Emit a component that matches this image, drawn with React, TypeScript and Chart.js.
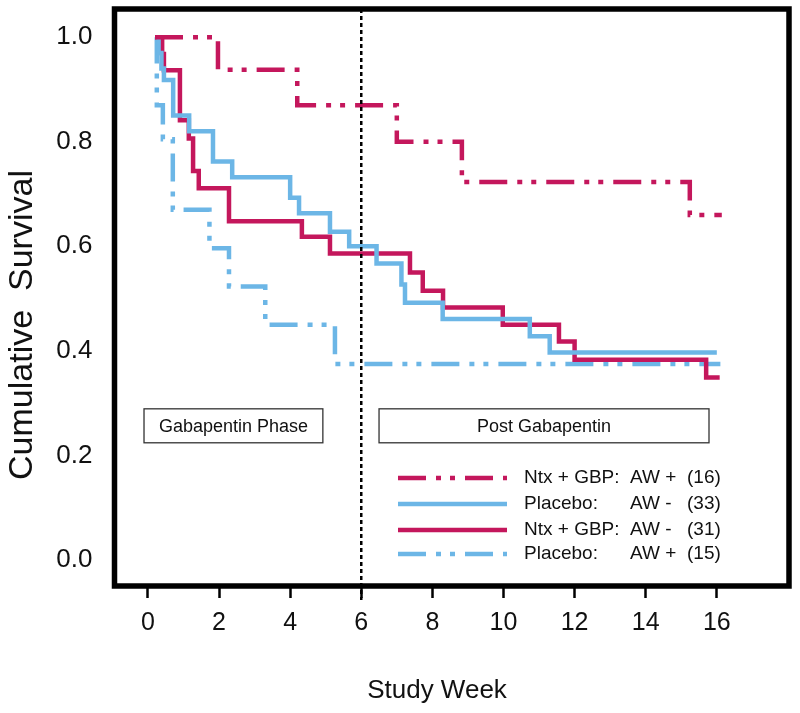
import React, { useEffect, useRef } from "react";
import { Chart, registerables } from "chart.js";

Chart.register(...registerables);

// ---- Data ----
const X_TICKS = [0, 2, 4, 6, 8, 10, 12, 14, 16];
const Y_TICKS = [0, 0.2, 0.4, 0.6, 0.8, 1.0];
const PHASE_WEEK = 6;

// Ntx + GBP: AW+ (16)
const ntxAwPosWeeks = [0.2, 1.97, 4.2, 7.0, 8.83, 15.24, 16.14];
const ntxAwPosSurv = [1.0, 0.938, 0.87, 0.8, 0.723, 0.66, 0.66];

// Placebo: AW- (33)
const plaAwNegWeeks = [0.25, 0.3, 0.38, 0.45, 0.71, 1.16, 1.83, 2.37, 4.0, 4.25, 5.12, 5.66, 6.43, 7.13, 7.23, 8.29, 10.74, 11.3, 16.0];
const plaAwNegSurv = [1.0, 0.97, 0.94, 0.918, 0.85, 0.82, 0.762, 0.732, 0.693, 0.663, 0.628, 0.6, 0.567, 0.527, 0.492, 0.461, 0.428, 0.397, 0.397];

// Ntx + GBP: AW- (31)
const ntxAwNegWeeks = [0.2, 0.4, 0.45, 0.9, 1.15, 1.27, 1.43, 2.28, 4.33, 5.12, 7.37, 7.73, 8.3, 9.98, 11.56, 12.0, 15.7, 16.08];
const ntxAwNegSurv = [1.0, 0.968, 0.937, 0.841, 0.806, 0.744, 0.711, 0.648, 0.618, 0.586, 0.55, 0.515, 0.483, 0.45, 0.418, 0.383, 0.349, 0.349];

// Placebo: AW+ (15)
const plaAwPosWeeks = [0.2, 0.25, 0.42, 0.7, 1.73, 2.28, 3.3, 5.26, 16.1];
const plaAwPosSurv = [1.0, 0.87, 0.805, 0.67, 0.596, 0.523, 0.45, 0.375, 0.375];

const seriesGroup = ["Ntx + GBP:", "Placebo:", "Ntx + GBP:", "Placebo:"];
const seriesAW = ["AW +", "AW -", "AW -", "AW +"];
const seriesN = [16, 33, 31, 15];

const PHASE_LABELS = ["Gabapentin Phase", "Post Gabapentin"];

const MAGENTA = "#C4175C";
const BLUE = "#6CB6E6";
const DASH_DOT_DOT = [28, 10, 5, 9, 5, 10];
const FONT = "'Liberation Sans', Arial, Helvetica, sans-serif";

const toPoints = (xs: number[], ys: number[]) => xs.map((x, i) => ({ x, y: ys[i] }));

const overlayPlugin = {
  id: "overlay",
  afterDatasetsDraw(chart: any) {
    const { ctx, chartArea: a, scales } = chart;
    const x = scales.x;
    const y = scales.y;
    ctx.save();

    // phase boundary (dotted vertical)
    const px = x.getPixelForValue(PHASE_WEEK);
    ctx.strokeStyle = "#000";
    ctx.lineWidth = 2.5;
    ctx.setLineDash([4, 3]);
    ctx.beginPath();
    ctx.moveTo(px, a.top);
    ctx.lineTo(px, a.bottom + 14);
    ctx.stroke();
    ctx.setLineDash([]);

    // phase boxes
    const boxes = [
      { label: PHASE_LABELS[0], from: -0.11, to: 4.92 },
      { label: PHASE_LABELS[1], from: 6.5, to: 15.78 },
    ];
    const yTop = y.getPixelForValue(0.289);
    const yBot = y.getPixelForValue(0.224);
    ctx.font = `18px ${FONT}`;
    ctx.textAlign = "center";
    ctx.textBaseline = "middle";
    boxes.forEach((b) => {
      const l = x.getPixelForValue(b.from);
      const r = x.getPixelForValue(b.to);
      ctx.fillStyle = "#fff";
      ctx.fillRect(l, yTop, r - l, yBot - yTop);
      ctx.strokeStyle = "#333";
      ctx.lineWidth = 1.3;
      ctx.strokeRect(l, yTop, r - l, yBot - yTop);
      ctx.fillStyle = "#111";
      ctx.fillText(b.label, (l + r) / 2, (yTop + yBot) / 2 + 1);
    });

    // legend
    const rowsY = [478, 504, 530, 554];
    chart.data.datasets.forEach((ds: any, i: number) => {
      const ly = rowsY[i];
      ctx.strokeStyle = ds.borderColor;
      ctx.lineWidth = 4.5;
      ctx.lineCap = "butt";
      ctx.setLineDash(ds.borderDash || []);
      ctx.beginPath();
      ctx.moveTo(398, ly);
      ctx.lineTo(507, ly);
      ctx.stroke();
      ctx.setLineDash([]);
      ctx.fillStyle = "#111";
      ctx.font = `19px ${FONT}`;
      ctx.textAlign = "left";
      ctx.textBaseline = "middle";
      ctx.fillText(seriesGroup[i], 524, ly);
      ctx.fillText(seriesAW[i], 630, ly);
      ctx.fillText(`(${seriesN[i]})`, 687, ly);
    });

    // frame
    ctx.strokeStyle = "#000";
    ctx.lineWidth = 5.5;
    ctx.strokeRect(a.left, a.top, a.right - a.left, a.bottom - a.top);

    // axis titles
    ctx.fillStyle = "#111";
    ctx.font = `26px ${FONT}`;
    ctx.textAlign = "center";
    ctx.textBaseline = "alphabetic";
    ctx.fillText("Study Week", 437, 698);

    ctx.save();
    ctx.translate(32, 325);
    ctx.rotate(-Math.PI / 2);
    ctx.font = `34px ${FONT}`;
    ctx.fillText("Cumulative  Survival", 0, 0);
    ctx.restore();

    ctx.restore();
  },
};

export default function App() {
  const ref = useRef<HTMLCanvasElement | null>(null);

  useEffect(() => {
    if (!ref.current) return;
    const common = { pointRadius: 0, stepped: true, fill: false, borderWidth: 4.5, borderCapStyle: "butt" };
    const chart = new Chart(ref.current, {
      type: "line",
      data: {
        datasets: [
          { ...common, label: `${seriesGroup[0]} ${seriesAW[0]} (${seriesN[0]})`, data: toPoints(ntxAwPosWeeks, ntxAwPosSurv), borderColor: MAGENTA, borderDash: DASH_DOT_DOT },
          { ...common, label: `${seriesGroup[1]} ${seriesAW[1]} (${seriesN[1]})`, data: toPoints(plaAwNegWeeks, plaAwNegSurv), borderColor: BLUE, borderDash: [] },
          { ...common, label: `${seriesGroup[2]} ${seriesAW[2]} (${seriesN[2]})`, data: toPoints(ntxAwNegWeeks, ntxAwNegSurv), borderColor: MAGENTA, borderDash: [] },
          { ...common, label: `${seriesGroup[3]} ${seriesAW[3]} (${seriesN[3]})`, data: toPoints(plaAwPosWeeks, plaAwPosSurv), borderColor: BLUE, borderDash: DASH_DOT_DOT },
        ] as any,
      },
      options: {
        responsive: false,
        animation: false,
        layout: { padding: { left: 0, right: 11, top: 9, bottom: 0 } },
        plugins: { legend: { display: false }, tooltip: { enabled: false }, title: { display: false } },
        scales: {
          x: {
            type: "linear",
            min: -0.94,
            max: 18.03,
            afterBuildTicks: (s: any) => { s.ticks = X_TICKS.map((v) => ({ value: v })); },
            afterFit: (s: any) => { s.height = 127; s.paddingLeft = 0; s.paddingRight = 0; },
            grid: { display: true, drawOnChartArea: false, drawTicks: true, tickLength: 12, tickWidth: 2.5, tickColor: "#000" },
            border: { display: false },
            ticks: { color: "#111", font: { family: FONT, size: 25 }, padding: 10, maxRotation: 0, autoSkip: false, callback: (v: any) => String(v) },
          },
          y: {
            type: "linear",
            min: -0.05,
            max: 1.054,
            afterBuildTicks: (s: any) => { s.ticks = Y_TICKS.map((v) => ({ value: v })); },
            afterFit: (s: any) => { s.width = 114.5; s.paddingTop = 0; s.paddingBottom = 0; },
            grid: { display: false },
            border: { display: false },
            ticks: { color: "#111", font: { family: FONT, size: 26 }, padding: 14, callback: (v: any) => Number(v).toFixed(1) },
          },
        },
      } as any,
      plugins: [overlayPlugin],
    });
    return () => chart.destroy();
  }, []);

  return (
    <div style={{ position: "fixed", left: 0, top: 0, width: 800, height: 713, background: "#fff" }}>
      <canvas ref={ref} width={800} height={713} style={{ width: 800, height: 713, display: "block" }} />
    </div>
  );
}
